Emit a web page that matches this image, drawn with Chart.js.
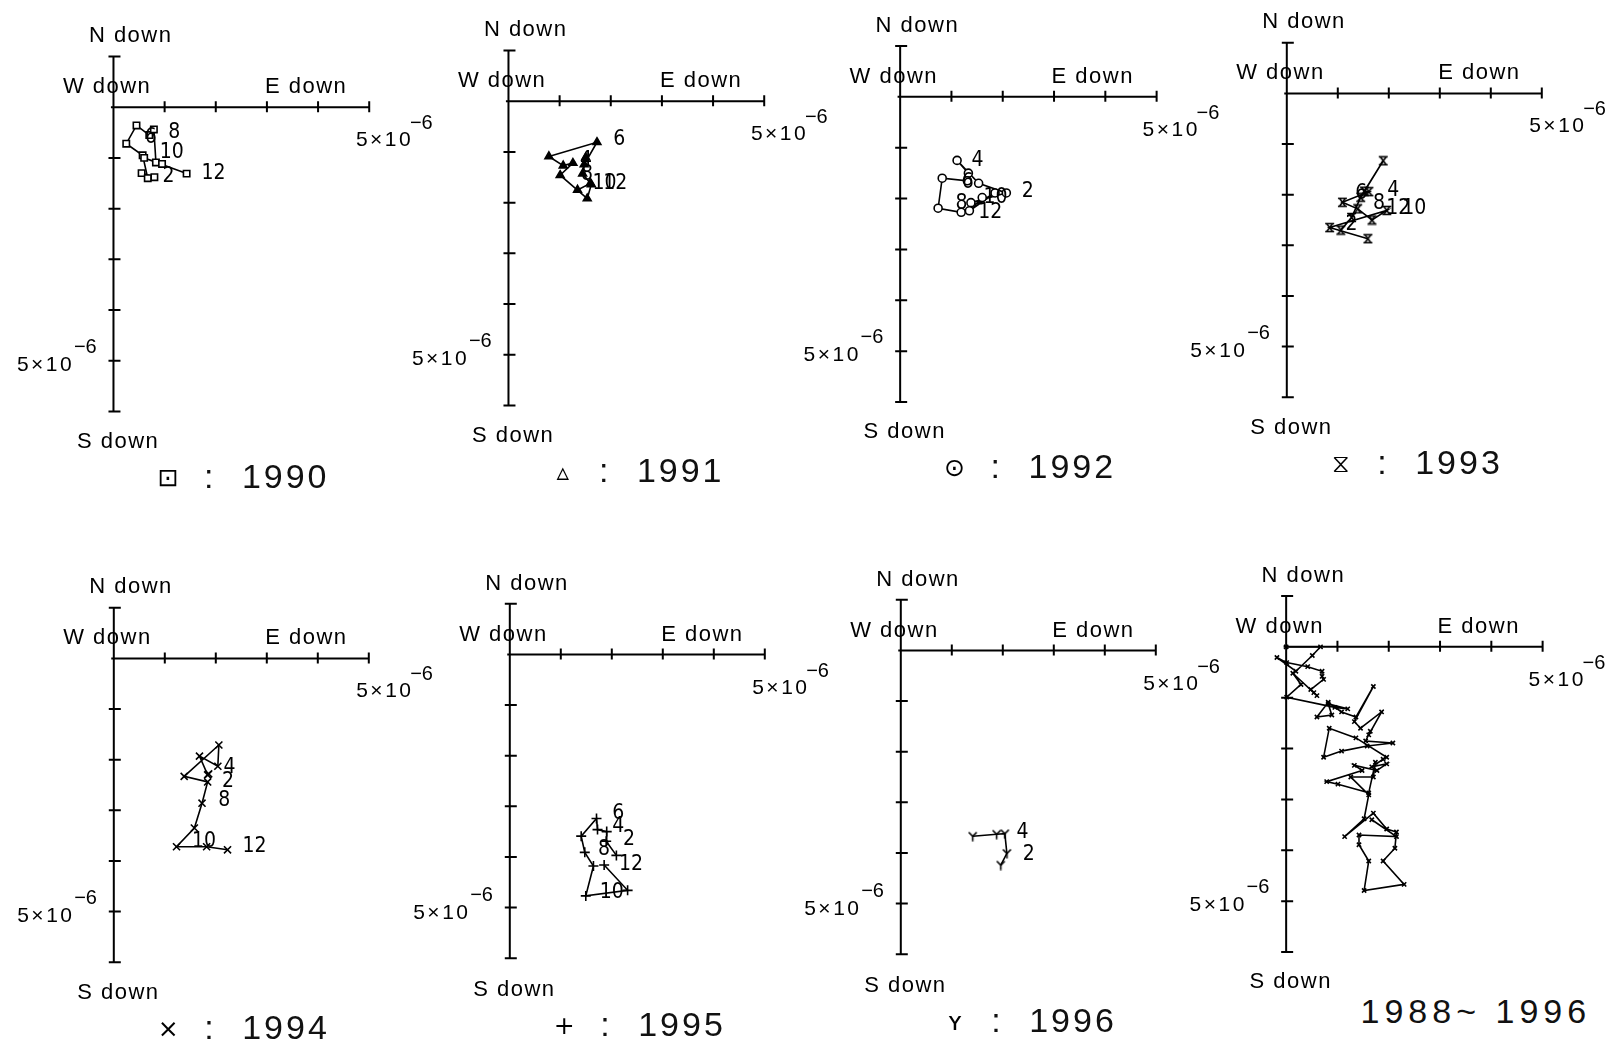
<!DOCTYPE html>
<html>
<head>
<meta charset="utf-8">
<script src="https://cdn.jsdelivr.net/npm/chart.js@4.4.1/dist/chart.umd.min.js"></script>
<style>
  body { margin: 0; background: #fff; }
  #page { position: relative; width: 1610px; height: 1044px; overflow: hidden; background: #fff; }
  #page canvas { position: absolute; }
  .t { position: absolute; white-space: nowrap; line-height: 1; color: #000; font-family: "Liberation Sans", Arial, sans-serif; }
  .axis { font-size: 22px; letter-spacing: 1.5px; transform: translateY(-50%); }
  .exp { font-size: 21px; letter-spacing: 2.5px; transform: translateY(-50%); }
  .sup { font-size: 20px; transform: translateY(-50%); }
  .mon { font-family: "Liberation Sans Narrow", "DejaVu Sans Condensed", sans-serif; font-size: 21px; transform: translate(-50%, -50%); }
  .year { font-size: 34px; letter-spacing: 3px; color: #111; transform: translateY(-50%); }
  .sym { font-family: "DejaVu Sans", sans-serif; font-size: 25px; transform: translate(-50%, -50%); }
</style>
</head>
<body>
<div id="page"></div>
<script>
// tilt vector, units of 1e-6 (east positive, north positive)
const east1990 = [0.55, 0.80, 0.67, 0.57, 0.25, 0.45, 0.70, 0.79, 0.83, 0.95, 0.60, 1.43];
const north1990 = [-1.30, -1.38, -1.40, -0.95, -0.72, -0.36, -0.55, -0.44, -1.09, -1.12, -1.00, -1.31];
const east1991 = [1.35, 1.60, 1.45, 1.51, 1.48, 1.73, 0.79, 1.07, 1.26, 1.01, 1.54, 1.62];
const north1991 = [-1.75, -1.62, -1.43, -1.11, -1.25, -0.81, -1.09, -1.27, -1.22, -1.46, -1.92, -1.64];
const east1992 = [1.38, 2.07, 1.53, 1.11, 1.33, 1.31, 0.82, 0.74, 1.19, 1.85, 1.35, 1.60];
const north1992 = [-2.08, -1.89, -1.70, -1.25, -1.50, -1.65, -1.60, -2.19, -2.27, -1.89, -2.24, -1.98];
const east1993 = [1.06, 1.27, 1.45, 1.89, 1.52, 1.61, 1.09, 1.39, 1.67, 1.96, 0.84, 1.59];
const north1993 = [-2.70, -2.45, -2.05, -1.33, -1.93, -1.94, -2.15, -2.28, -2.50, -2.31, -2.65, -2.87];
const east1994 = [1.86, 1.84, 1.68, 2.04, 2.06, 1.38, 1.84, 1.73, 1.58, 1.23, 1.82, 2.23];
const north1994 = [-2.28, -2.30, -1.93, -2.13, -1.71, -2.33, -2.44, -2.86, -3.35, -3.72, -3.72, -3.78];
const east1995 = [2.09, 1.89, 1.90, 1.72, 1.70, 1.40, 1.47, 1.64, 1.49, 2.31, 1.85];
const north1995 = [-3.97, -3.69, -3.50, -3.46, -3.24, -3.59, -3.91, -4.18, -4.77, -4.66, -4.16];
const east1996 = [1.96, 2.08, 2.04, 1.88, 1.41];
const north1996 = [-4.24, -4.01, -3.62, -3.63, -3.67];
const eastAll = [0.00, 0.67, 0.51, 0.19, -0.18, 0.01, 0.42, 0.70, 0.70, 0.73, 0.48, 0.54, 0.60, 0.13, 0.29, 0.01,
    0.95, 1.20, 0.82, 0.89, 0.60, 0.82, 1.08, 1.36, 1.70, 1.33, 1.45, 1.86, 1.61, 1.64, 1.55, 2.08, 1.58, 1.08,
    0.73, 0.84, 1.36, 1.96, 1.89, 1.67, 1.96, 1.77, 1.33, 1.48, 0.79, 1.01, 1.61, 1.74, 1.70, 1.26, 1.61, 1.52,
    1.14, 1.70, 1.96, 2.15, 2.12, 1.89, 2.30, 1.52, 1.61, 1.42, 1.42, 2.15, 1.67];
const northAll = [0.00, 0.00, -0.17, -0.48, -0.21, -0.31, -0.39, -0.48, -0.58, -0.64, -0.84, -0.90, -0.96, -0.52, -0.74, -0.99,
    -1.19, -1.22, -1.12, -1.34, -1.38, -1.09, -1.28, -1.38, -0.78, -1.47, -1.60, -1.28, -1.73, -1.66, -1.85, -1.89, -1.95, -2.05,
    -2.17, -1.60, -1.79, -2.17, -2.21, -2.36, -2.30, -2.43, -2.33, -2.43, -2.65, -2.70, -2.87, -2.27, -2.56, -2.56, -2.91, -3.38,
    -3.73, -3.27, -3.58, -3.64, -3.96, -4.21, -4.67, -4.79, -4.21, -3.89, -3.70, -3.73, -3.40];

// month labels: text, east, north
const marks1990 = [["8", 1.18, -0.48], ["6", 0.72, -0.58], ["10", 1.13, -0.87], ["2", 1.07, -1.34], ["12", 1.95, -1.28]];
const marks1991 = [["6", 2.16, -0.73], ["4", 1.51, -1.14], ["8", 1.53, -1.43], ["10", 1.87, -1.60], ["12", 2.08, -1.60]];
const marks1992 = [["4", 1.50, -1.22], ["6", 1.31, -1.66], ["8", 1.19, -2.08], ["10", 1.85, -1.95], ["12", 1.75, -2.24], ["2", 2.48, -1.84]];
const marks1993 = [["4", 2.08, -1.90], ["6", 1.45, -1.96], ["8", 1.80, -2.15], ["12", 2.18, -2.25], ["10", 2.49, -2.24], ["2", 1.26, -2.57]];
const marks1994 = [["4", 2.26, -2.12], ["2", 2.23, -2.40], ["8", 2.16, -2.79], ["10", 1.76, -3.59], ["12", 2.75, -3.68]];
const marks1995 = [["6", 2.12, -3.11], ["4", 2.12, -3.37], ["2", 2.33, -3.62], ["8", 1.84, -3.81], ["12", 2.37, -4.12], ["10", 1.99, -4.67]];
const marks1996 = [["4", 2.38, -3.56], ["2", 2.50, -3.99]];

const eastTicks = [1, 2, 3, 4, 5];
const northTicks = [1, -1, -2, -3, -4, -5, -6];

function markCanvas(draw) {
    const c = document.createElement("canvas");
    c.width = 11; c.height = 11;
    const g = c.getContext("2d");
    g.strokeStyle = "#000";
    g.lineWidth = 1.6;
    g.beginPath();
    draw(g);
    g.stroke();
    return c;
}
const hourglass = markCanvas(g => {
    g.moveTo(1, 1.5); g.lineTo(10, 1.5);
    g.moveTo(1, 9.5); g.lineTo(10, 9.5);
    g.moveTo(2.5, 1.5); g.lineTo(8.5, 9.5);
    g.moveTo(8.5, 1.5); g.lineTo(2.5, 9.5);
});
const yMark = markCanvas(g => {
    g.moveTo(1.5, 1.5); g.lineTo(5.5, 5.5); g.lineTo(9.5, 1.5);
    g.moveTo(5.5, 5.5); g.lineTo(5.5, 10.5);
});

const panels = [
    { o: [110, 103], e: east1990, n: north1990, m: marks1990, ps: "rect", bg: "#fff", r: 4.5, sym: "⊡", year: "1990" },
    { o: [505, 97], e: east1991, n: north1991, m: marks1991, ps: "triangle", bg: "#000", r: 4.5, sym: "▵", year: "1991" },
    { o: [897, 93], e: east1992, n: north1992, m: marks1992, ps: "circle", bg: "#fff", r: 4, sym: "⊙", year: "1992" },
    { o: [1283, 89], e: east1993, n: north1993, m: marks1993, ps: hourglass, bg: "#fff", r: 5, sym: "⧖", year: "1993" },
    { o: [110, 654], e: east1994, n: north1994, m: marks1994, ps: "crossRot", bg: "#fff", r: 5, sym: "×", year: "1994" },
    { o: [506, 650.5], e: east1995, n: north1995, m: marks1995, ps: "cross", bg: "#fff", r: 5, sym: "+", year: "1995" },
    { o: [897, 646.5], e: east1996, n: north1996, m: marks1996, ps: yMark, bg: "#fff", r: 5, sym: "ʏ", year: "1996" },
    { o: [1283, 643], e: eastAll, n: northAll, m: [], ps: "crossRot", bg: "#fff", r: 3, sym: "", year: "1988~ 1996" }
];

const X_MIN = -1.2, X_MAX = 5.6, Y_MIN = -6.4, Y_MAX = 1.4;
const UX = 53, UY = 52.3;

const axesPlugin = {
    id: "tiltAxes",
    beforeDatasetsDraw(chart) {
        const ctx = chart.ctx, x = chart.scales.x, y = chart.scales.y;
        const x0 = x.getPixelForValue(0), y0 = y.getPixelForValue(0);
        ctx.save();
        ctx.strokeStyle = "#000";
        ctx.lineWidth = 2;
        ctx.beginPath();
        ctx.moveTo(x.getPixelForValue(-0.05), y0);
        ctx.lineTo(x.getPixelForValue(5), y0);
        ctx.moveTo(x0, y.getPixelForValue(1));
        ctx.lineTo(x0, y.getPixelForValue(-6));
        eastTicks.forEach(v => {
            const px = x.getPixelForValue(v);
            ctx.moveTo(px, y0 - 6);
            ctx.lineTo(px, y0 + 5);
        });
        northTicks.forEach(v => {
            const py = y.getPixelForValue(v);
            ctx.moveTo(x0 - 5, py);
            ctx.lineTo(x0 + 7, py);
        });
        ctx.stroke();
        ctx.restore();
    }
};

const page = document.getElementById("page");

function addText(cls, text, px, py) {
    const s = document.createElement("span");
    s.className = "t " + cls;
    s.textContent = text;
    s.style.left = px + "px";
    s.style.top = py + "px";
    page.appendChild(s);
    return s;
}

panels.forEach(p => {
    const w = Math.round((X_MAX - X_MIN) * UX), h = Math.round((Y_MAX - Y_MIN) * UY);
    const left = p.o[0] + X_MIN * UX, top = p.o[1] - Y_MAX * UY;
    const canvas = document.createElement("canvas");
    canvas.width = w; canvas.height = h;
    canvas.style.left = left + "px";
    canvas.style.top = top + "px";
    canvas.style.width = w + "px";
    canvas.style.height = h + "px";
    page.appendChild(canvas);

    const pts = p.e.map((v, i) => ({ x: v, y: p.n[i] }));
    const chart = new Chart(canvas, {
        type: "scatter",
        data: {
            datasets: [{
                data: pts,
                showLine: true,
                borderColor: "#000",
                borderWidth: 1.6,
                pointStyle: p.ps,
                pointRadius: p.r,
                pointBorderColor: "#000",
                pointBackgroundColor: p.bg,
                pointBorderWidth: 1.6,
                tension: 0
            }]
        },
        options: {
            responsive: false,
            animation: false,
            devicePixelRatio: 1,
            layout: { padding: 0 },
            plugins: { legend: { display: false }, tooltip: { enabled: false } },
            scales: {
                x: { type: "linear", min: X_MIN, max: X_MAX, display: false },
                y: { type: "linear", min: Y_MIN, max: Y_MAX, display: false }
            }
        },
        plugins: [axesPlugin]
    });

    const sx = v => left + chart.scales.x.getPixelForValue(v);
    const sy = v => top + chart.scales.y.getPixelForValue(v);
    const ox = sx(0), oy = sy(0);

    addText("axis", "N down", ox - 25, oy - 72);
    addText("axis", "W down", ox - 51, oy - 21);
    addText("axis", "E down", ox + 151, oy - 21);
    addText("axis", "S down", ox - 37, oy + 334);
    addText("exp", "5×10", ox + 242, oy + 31);
    addText("sup", "−6", ox + 296, oy + 15);
    addText("exp", "5×10", ox - 97, oy + 256);
    addText("sup", "−6", ox - 40, oy + 239);

    p.m.forEach(m => addText("mon", m[0], sx(m[1]), sy(m[2])));

    if (p.sym) {
        addText("sym", p.sym, ox + 54, oy + 370);
        addText("year", ":", ox + 90, oy + 369);
        addText("year", p.year, ox + 128, oy + 369);
    } else {
        const s = addText("year", p.year, ox + 74, oy + 364);
        s.style.letterSpacing = "5px";
    }
});
</script>
</body>
</html>
